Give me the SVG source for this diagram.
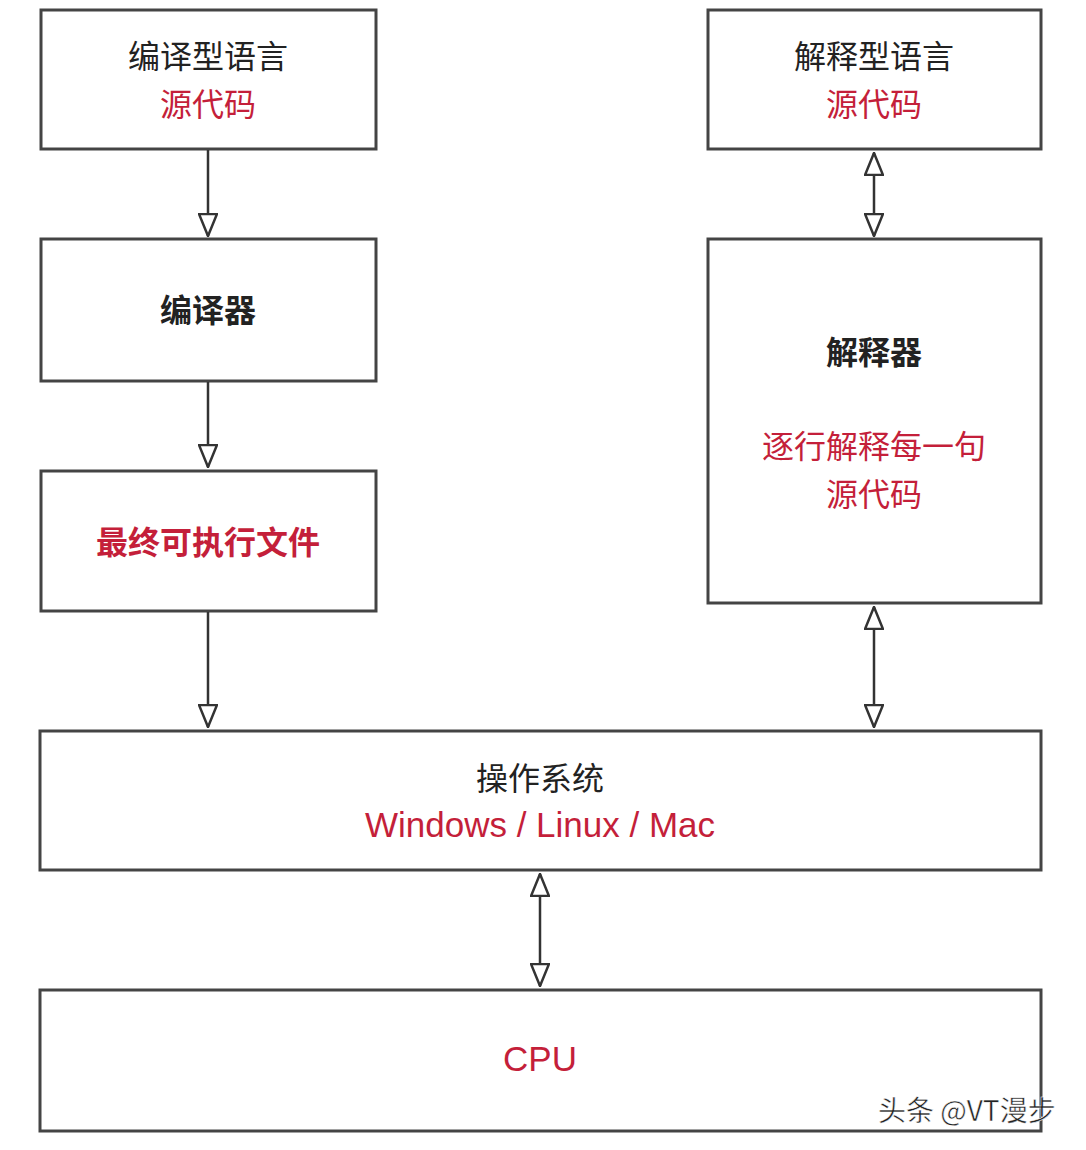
<svg xmlns="http://www.w3.org/2000/svg" width="1086" height="1150" viewBox="0 0 1086 1150">
<style>
.box{fill:#fff;stroke:#444;stroke-width:3}
.t{font-family:"Noto Sans CJK SC","Liberation Sans",sans-serif;font-size:32px;text-anchor:middle;fill:#222}
.r{fill:#c41f3a}
.b{font-weight:bold}
.l{font-family:"Liberation Sans",sans-serif;font-size:35px}
.c{stroke:#333;stroke-width:2.5;fill:none}
.wm{font-family:"Noto Sans CJK SC",sans-serif;font-size:28px;fill:#222;stroke:#fff;stroke-width:0.5}
</style>
<defs>
<marker id="a" viewBox="0 0 24 20" refX="23" refY="10" markerWidth="24" markerHeight="20" markerUnits="userSpaceOnUse" orient="auto-start-reverse">
<path d="M1,1 L23,10 L1,19 Z" fill="#fff" stroke="#333" stroke-width="2.5"/>
</marker>
</defs>
<rect width="1086" height="1150" fill="#fff"/>
<g id="n1"><rect class="box" x="41" y="10" width="335" height="139"/><text class="t" x="208" y="68">编译型语言</text><text class="t r" x="208" y="116">源代码</text></g>
<g id="n2"><rect class="box" x="41" y="239" width="335" height="142"/><text class="t b" x="208" y="322">编译器</text></g>
<g id="n3"><rect class="box" x="41" y="471" width="335" height="140"/><text class="t b r" x="208" y="554">最终可执行文件</text></g>
<g id="n4"><rect class="box" x="708" y="10" width="333" height="139"/><text class="t" x="874" y="68">解释型语言</text><text class="t r" x="874" y="116">源代码</text></g>
<g id="n5"><rect class="box" x="708" y="239" width="333" height="364"/><text class="t b" x="874" y="364">解释器</text><text class="t r" x="874" y="458">逐行解释每一句</text><text class="t r" x="874" y="506">源代码</text></g>
<g id="n6"><rect class="box" x="40" y="731" width="1001" height="139"/><text class="t" x="540" y="790">操作系统</text><text class="t r l" x="540" y="837">Windows / Linux / Mac</text></g>
<g id="n7"><rect class="box" x="40" y="990" width="1001" height="141"/><text class="t r l" x="540" y="1071">CPU</text></g>
<g id="connectors">
<line class="c" x1="208" y1="150" x2="208" y2="236" marker-end="url(#a)"/>
<line class="c" x1="208" y1="382" x2="208" y2="467" marker-end="url(#a)"/>
<line class="c" x1="208" y1="612" x2="208" y2="727" marker-end="url(#a)"/>
<line class="c" x1="874" y1="153" x2="874" y2="236" marker-start="url(#a)" marker-end="url(#a)"/>
<line class="c" x1="874" y1="607" x2="874" y2="727" marker-start="url(#a)" marker-end="url(#a)"/>
<line class="c" x1="540" y1="874" x2="540" y2="986" marker-start="url(#a)" marker-end="url(#a)"/>
</g>
<text class="wm" x="878" y="1121">头条 @VT漫步</text>
</svg>
